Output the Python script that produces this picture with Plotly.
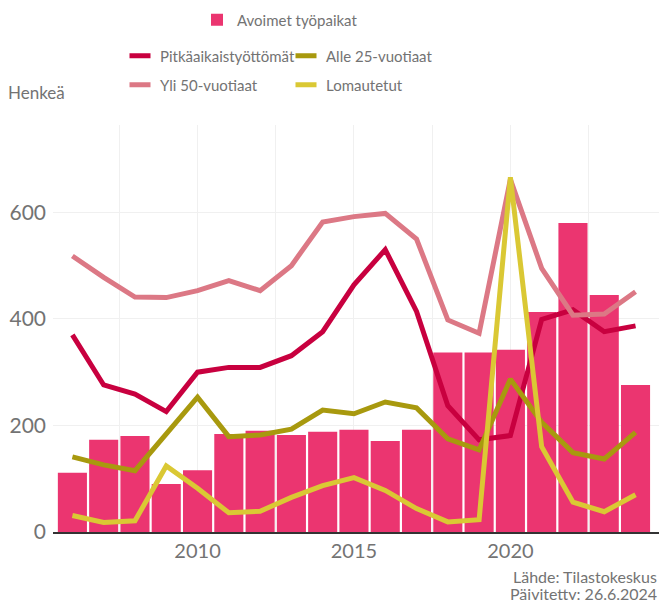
import plotly.graph_objects as go

years = list(range(2006, 2025))
avoimet = [111, 173, 180, 90, 116, 184, 190, 182, 188, 192, 171, 192, 337, 337, 342, 413, 580, 445, 276]
pitka = [370, 276, 259, 226, 300, 309, 309, 331, 376, 464, 530, 414, 237, 173, 181, 399, 417, 376, 387]
yli50 = [518, 478, 441, 440, 453, 472, 453, 500, 582, 592, 598, 550, 398, 373, 662, 495, 407, 409, 451]
alle25 = [141, 126, 115, 185, 253, 179, 182, 193, 229, 222, 244, 233, 175, 154, 287, 206, 149, 137, 187]
lomautetut = [31, 18, 21, 124, 82, 36, 39, 65, 87, 102, 78, 44, 19, 23, 666, 160, 56, 38, 70]

FONT = "Lato"
GRAY = "#737373"
W, H = 659, 600

fig = go.Figure()
fig.add_trace(go.Bar(x=years, y=avoimet, name="Avoimet työpaikat",
                     marker=dict(color="#EB3570", line=dict(width=0)), legend="legend"))
line_series = [
    ("Pitkäaikaistyöttömät", pitka, "#C8003F", "legend2"),
    ("Yli 50-vuotiaat", yli50, "#DC7885", "legend3"),
    ("Alle 25-vuotiaat", alle25, "#A8990E", "legend2"),
    ("Lomautetut", lomautetut, "#DAC834", "legend3"),
]
for name, vals, col, lg in line_series:
    fig.add_trace(go.Scatter(x=years, y=vals, name=name, mode="lines",
                             line=dict(color=col, width=5), legendgroup=name,
                             showlegend=False, hoverinfo="skip"))
# legend entries with a short line symbol
for name, vals, col, lg in line_series:
    fig.add_trace(go.Scatter(x=[None], y=[None], name=name, mode="markers",
                             marker=dict(symbol="line-ew", size=15, color=col,
                                         line=dict(color=col, width=5)),
                             legendgroup=name, legend=lg, showlegend=True))

legend_common = dict(orientation="h", xref="container", yref="container",
                     xanchor="left", yanchor="middle", bgcolor="rgba(0,0,0,0)",
                     font=dict(family=FONT, size=15, color=GRAY),
                     entrywidthmode="pixels", entrywidth=121, itemclick=False,
                     itemdoubleclick=False)

fig.update_layout(
    width=W, height=H,
    showlegend=True,
    margin=dict(l=53, r=0, t=125, b=68),
    paper_bgcolor="white", plot_bgcolor="white",
    bargap=0.07,
    font=dict(family=FONT, color=GRAY),
    title=dict(text="Henkeä", x=8 / W, xref="container", xanchor="left",
               y=1 - 93 / H, yref="container", yanchor="middle",
               font=dict(family=FONT, size=17, color=GRAY)),
    legend=dict(orientation="h", xref="container", yref="container",
                xanchor="left", yanchor="middle", x=197 / W, y=1 - 20 / H,
                bgcolor="rgba(0,0,0,0)",
                font=dict(family=FONT, size=15, color=GRAY)),
    legend2=dict(legend_common, x=120 / W, y=1 - 56 / H),
    legend3=dict(legend_common, x=120 / W, y=1 - 85 / H),
    xaxis=dict(range=[2005.38, 2024.75], tickvals=[2010, 2015, 2020],
               ticktext=["2010", "2015", "2020"],
               showgrid=True, gridcolor="#F0F0F0", gridwidth=1,
               minor=dict(tickvals=[2007.5, 2010, 2012.5, 2015, 2017.5, 2020, 2022.5],
                          showgrid=True, gridcolor="#F0F0F0", gridwidth=1),
               showline=True, linecolor="#333333", linewidth=2,
               ticks="", tickfont=dict(family=FONT, size=20, color=GRAY),
               zeroline=False, fixedrange=True),
    yaxis=dict(range=[0, 764], tickvals=[0, 200, 400, 600],
               showgrid=True, gridcolor="#F0F0F0", gridwidth=1,
               zeroline=False, ticks="", ticklabelstandoff=6,
               tickfont=dict(family=FONT, size=21, color=GRAY), fixedrange=True),
    annotations=[
        dict(text="Lähde: Tilastokeskus", xref="paper", yref="paper",
             x=1, y=-(576.5 - 532) / 407, xanchor="right", yanchor="middle",
             showarrow=False, font=dict(family=FONT, size=16, color=GRAY)),
        dict(text="Päivitetty: 26.6.2024", xref="paper", yref="paper",
             x=1, y=-(593.5 - 532) / 407, xanchor="right", yanchor="middle",
             showarrow=False, font=dict(family=FONT, size=16, color=GRAY)),
    ],
)

fig.write_html("out.html", config={"displayModeBar": False},
               post_script="document.body.style.margin='0px';")
